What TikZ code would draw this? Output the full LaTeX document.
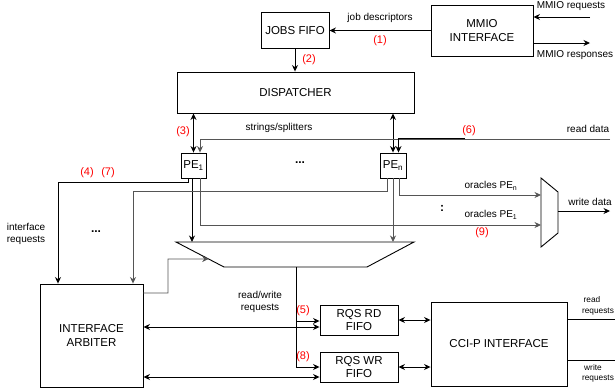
\documentclass[tikz,border=0pt]{standalone}
\usepackage{fontspec}
\setmainfont{Liberation Sans}
\usetikzlibrary{arrows.meta,calc}
\definecolor{lgray}{HTML}{555555}
\definecolor{numred}{HTML}{FF0000}
\begin{document}
\begin{tikzpicture}[x=1pt,y=-1pt,
  box/.style={draw,line width=0.9pt,inner sep=0pt,align=center,font=\fontsize{11.5}{13.5}\selectfont},
  arr/.style={line width=0.9pt,-{Stealth[length=6.5pt,width=6pt]}},
  darr/.style={line width=0.9pt,{Stealth[length=6.5pt,width=6pt]}-{Stealth[length=6.5pt,width=6pt]}},
  pline/.style={line width=0.9pt},
  lbl/.style={font=\fontsize{10}{12}\selectfont,inner sep=0pt,align=center},
  slbl/.style={font=\fontsize{8.3}{10}\selectfont,inner sep=0pt,align=center},
  num/.style={font=\fontsize{11}{13}\selectfont,text=numred,inner sep=0pt},
  dots/.style={font=\fontsize{12}{14}\selectfont\bfseries,inner sep=0pt},
]
\useasboundingbox (0,0) rectangle (615,391);

% boxes
\node[box,minimum width=68,minimum height=36] (jobs) at (295,30.5) {JOBS FIFO};
\node[box,minimum width=102,minimum height=51] (mmio) at (482,30.5) {MMIO\\INTERFACE};
\node[box,minimum width=237,minimum height=41] (disp) at (295.5,92.5) {DISPATCHER};
\node[box,minimum width=25,minimum height=25] (pe1) at (193.5,165.5) {PE\textsubscript{1}};
\node[box,minimum width=26,minimum height=25] (pen) at (393,165.5) {PE\textsubscript{n}};
\node[box,minimum width=103,minimum height=103] (arb) at (91.5,335.5) {INTERFACE\\ARBITER};
\node[box,minimum width=78,minimum height=30] (rd) at (359,320) {RQS RD\\FIFO};
\node[box,minimum width=78,minimum height=30] (wr) at (359,367) {RQS WR\\FIFO};
\node[box,minimum width=136,minimum height=84] (cci) at (499,344) {CCI-P INTERFACE};

% request multiplexer
\coordinate (mTL) at (176,242);
\coordinate (mTR) at (414,242);
\coordinate (mBR) at (367,267);
\coordinate (mBL) at (224,267);
\draw[pline] (mTL) -- (mTR) -- (mBR) -- (mBL) -- cycle;
\coordinate (mOut) at (296,267);

% oracle multiplexer
\coordinate (oTL) at (541,178);
\coordinate (oBL) at (541,247);
\coordinate (oBR) at (558,233);
\coordinate (oTR) at (558,192);
\draw[pline] (oTL) -- (oTR) -- (oBR) -- (oBL) -- cycle;
\coordinate (oOut) at (558,211);

% MMIO
\draw[arr] (mmio.west) -- (jobs.east);
\coordinate (mreq) at (590,17);
\draw[arr] (mreq) -- (mreq -| mmio.east);
\coordinate (mresp) at (590,43);
\draw[arr] (mresp -| mmio.east) -- (mresp);
\draw[arr] (jobs.south) -- (jobs.south |- disp.north);

% dispatcher <-> PEs
\draw[darr] (disp.south -| pe1.north) -- (pe1.north);
\draw[darr] (disp.south -| pen.north) -- (pen.north);

% read data / strings
\coordinate (rdin) at (610,139);
\coordinate (s1) at (200,139);
\draw[arr,lgray] (rdin) -- (s1) -- (s1 |- pe1.north);
\coordinate (s2) at (465,138.5);
\coordinate (sn) at (398.5,138.5);
\draw[arr] (s2) -- (sn) -- (sn |- pen.north);

% PE1 outputs
\coordinate (p1a) at ([xshift=-5.5pt]pe1.south);
\coordinate (a1) at (58,182);
\draw[arr] (p1a) |- (a1) -- (a1 |- arb.north);
\coordinate (p1b) at ([xshift=-1.5pt]pe1.south);
\draw[arr] (p1b) -- (p1b |- mTL);
\coordinate (p1c) at ([xshift=6.5pt]pe1.south);
\coordinate (o1) at (541,225);
\draw[arr,lgray] (p1c) |- (o1);

% PEn outputs
\coordinate (pna) at ([xshift=-6pt]pen.south);
\coordinate (a2) at (133,191);
\draw[arr,lgray] (pna) |- (a2) -- (a2 |- arb.north);
\coordinate (pnb) at (pen.south);
\draw[arr,lgray] (pnb) -- (pnb |- mTL);
\coordinate (pnc) at ([xshift=6pt]pen.south);
\coordinate (on) at (541,195);
\draw[arr,lgray] (pnc) |- (on);

% write data
\coordinate (wd) at (610,211);
\draw[arr] (oOut) -- (wd);

% arbiter -> mux
\coordinate (ae) at (arb.east |- 0,293);
\coordinate (ab) at (168,259);
\draw[arr,lgray] (ae) -| (ab) -- ($(mTL)!0.68!(mBL)$);

% mux -> FIFOs
\coordinate (mr) at (mOut |- 0,321);
\draw[arr] (mOut) |- (wr.west);
\draw[arr] (mr) -- (rd.west |- mr);

% arbiter <-> FIFOs
\coordinate (ar) at (arb.east |- 0,327);
\coordinate (aw) at (arb.east |- 0,377);
\draw[darr] (ar) -- (rd.west |- ar);
\draw[darr] (aw) -- (wr.west |- aw);

% FIFOs <-> CCI-P
\draw[darr] (rd.east) -- (rd.east -| cci.west);
\draw[darr] (wr.east) -- (wr.east -| cci.west);

% CCI-P outputs
\coordinate (rr) at (615,319);
\coordinate (ww) at (615,360);
\draw[pline] (cci.east |- rr) -- (rr);
\draw[pline] (cci.east |- ww) -- (ww);

% labels
\node[lbl] (t1) at (380,18) {job descriptors};
\node[num] (n1) at (380,41) {(1)};
\node[lbl] (t2) at (571,6) {MMIO requests};
\node[lbl] (t3) at (575,55) {MMIO responses};
\node[num] (n2) at (309,60) {(2)};
\node[num] (n3) at (183,132) {(3)};
\node[lbl] (t4) at (279,128) {strings/splitters};
\node[num] (n6) at (469,131) {(6)};
\node[lbl] (t5) at (588,129) {read data};
\node[num] (n4) at (87,173) {(4)};
\node[num] (n7) at (108,173) {(7)};
\node[lbl] (t6) at (26,234) {interface\\requests};
\node[dots] (d1) at (96,232) {...};
\node[dots] (d2) at (300,163) {...};
\node[lbl] (t7) at (491,186) {oracles PE\textsubscript{n}};
\node[lbl] (t8) at (491,215) {oracles PE\textsubscript{1}};
\node[dots] (d3) at (442,208) {:};
\node[num] (n9) at (482,233) {(9)};
\node[lbl] (t9) at (590,202) {write data};
\node[lbl] (t10) at (260,302) {read/write\\requests};
\node[num] (n5) at (303,311) {(5)};
\node[num] (n8) at (303,357) {(8)};
\node[slbl] (t11) at (592,300) {read};
\node[slbl] (t12) at (598,312) {requests};
\node[slbl] (t13) at (593,368) {write};
\node[slbl] (t14) at (598,379) {requests};
\end{tikzpicture}
\end{document}
